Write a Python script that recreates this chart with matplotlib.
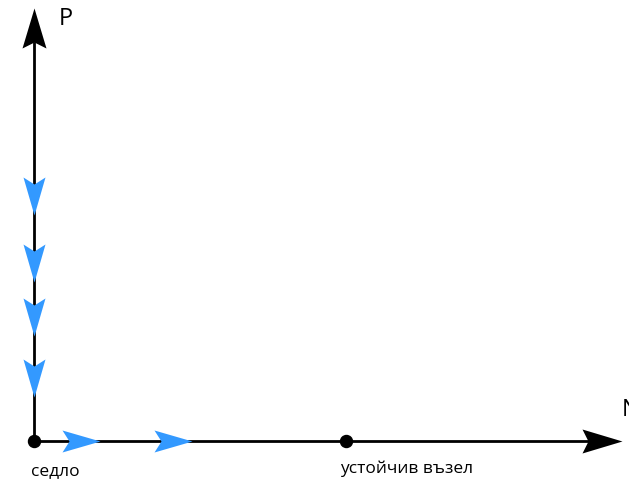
import numpy as np
import matplotlib.pyplot as plt
from matplotlib.path import Path

# phase portrait data (units: node at N=1)
p_axis_end = 1.375
n_axis_end = 1.885
eq_n = [0.0, 1.0]
eq_p = [0.0, 0.0]
eq_labels = ["седло", "устойчив възел"]
flow_p = [0.724, 0.51, 0.337, 0.141]    # arrows pointing down on P axis
flow_n = [0.21, 0.506]                  # arrows pointing right on N axis

plt.rcParams['font.family'] = ['Open Sans', 'DejaVu Sans']

fig = plt.figure(figsize=(6.29, 4.82), dpi=100)
ax = fig.add_axes([0, 0, 1, 1])
scale = 312.0
ax.set_xlim(-34 / scale, (629 - 34) / scale)
ax.set_ylim(-(482 - 441) / scale, 441 / scale)
ax.axis('off')


def head(length, width, notch):
    # arrowhead pointing down, tip at the marker centre
    verts = [(0, 0), (width / 2, length), (0, length - notch),
             (-width / 2, length), (0, 0)]
    verts = [(x, y - length / 2) for x, y in verts]
    codes = [Path.MOVETO, Path.LINETO, Path.LINETO, Path.LINETO, Path.CLOSEPOLY]
    return Path(verts, codes)


def rot(path, deg):
    a = np.deg2rad(deg)
    r = np.array([[np.cos(a), -np.sin(a)], [np.sin(a), np.cos(a)]])
    return Path(path.vertices @ r.T, path.codes)


px = 72 / 100
blue = "#3399ff"

# axes
ax.plot([0, 0], [0, p_axis_end - 0.1], color="black", lw=2, zorder=1)
ax.plot([0, n_axis_end - 0.1], [0, 0], color="black", lw=2, zorder=1)

# black axis heads (offset so tip lands at the end)
h_big = head(40, 24, 6)
ax.plot(0, p_axis_end + 4 / scale - 20 / scale, marker=rot(h_big, 180), ms=40 * px,
        color="black", mec="none", zorder=3)
ax.plot(n_axis_end - 20 / scale, 0, marker=rot(h_big, 90), ms=40 * px,
        color="black", mec="none", zorder=3)

# flow arrows
h_small = head(38, 22, 7)
for p in flow_p:
    ax.plot(0, p + 19 / scale, marker=h_small, ms=38 * px,
            color=blue, mec="none", zorder=4)
for n in flow_n:
    ax.plot(n - 19 / scale, 0, marker=rot(h_small, 90), ms=38 * px,
            color=blue, mec="none", zorder=4)

# equilibria
ax.plot(eq_n, eq_p, "o", color="black", ms=12 * px, zorder=5)
ax.text(eq_n[0] - 0.01, -0.095, eq_labels[0], fontsize=12.5, ha="left", va="center")
ax.text(eq_n[1] - 0.02, -0.088, eq_labels[1], fontsize=12.5, ha="left", va="center")

ax.text(0.08, 1.353, "P", fontsize=17, ha="left", va="center")
ax.text(1.885, 0.1, "N", fontsize=17, ha="left", va="center")

fig.savefig("out.png", dpi=100)
